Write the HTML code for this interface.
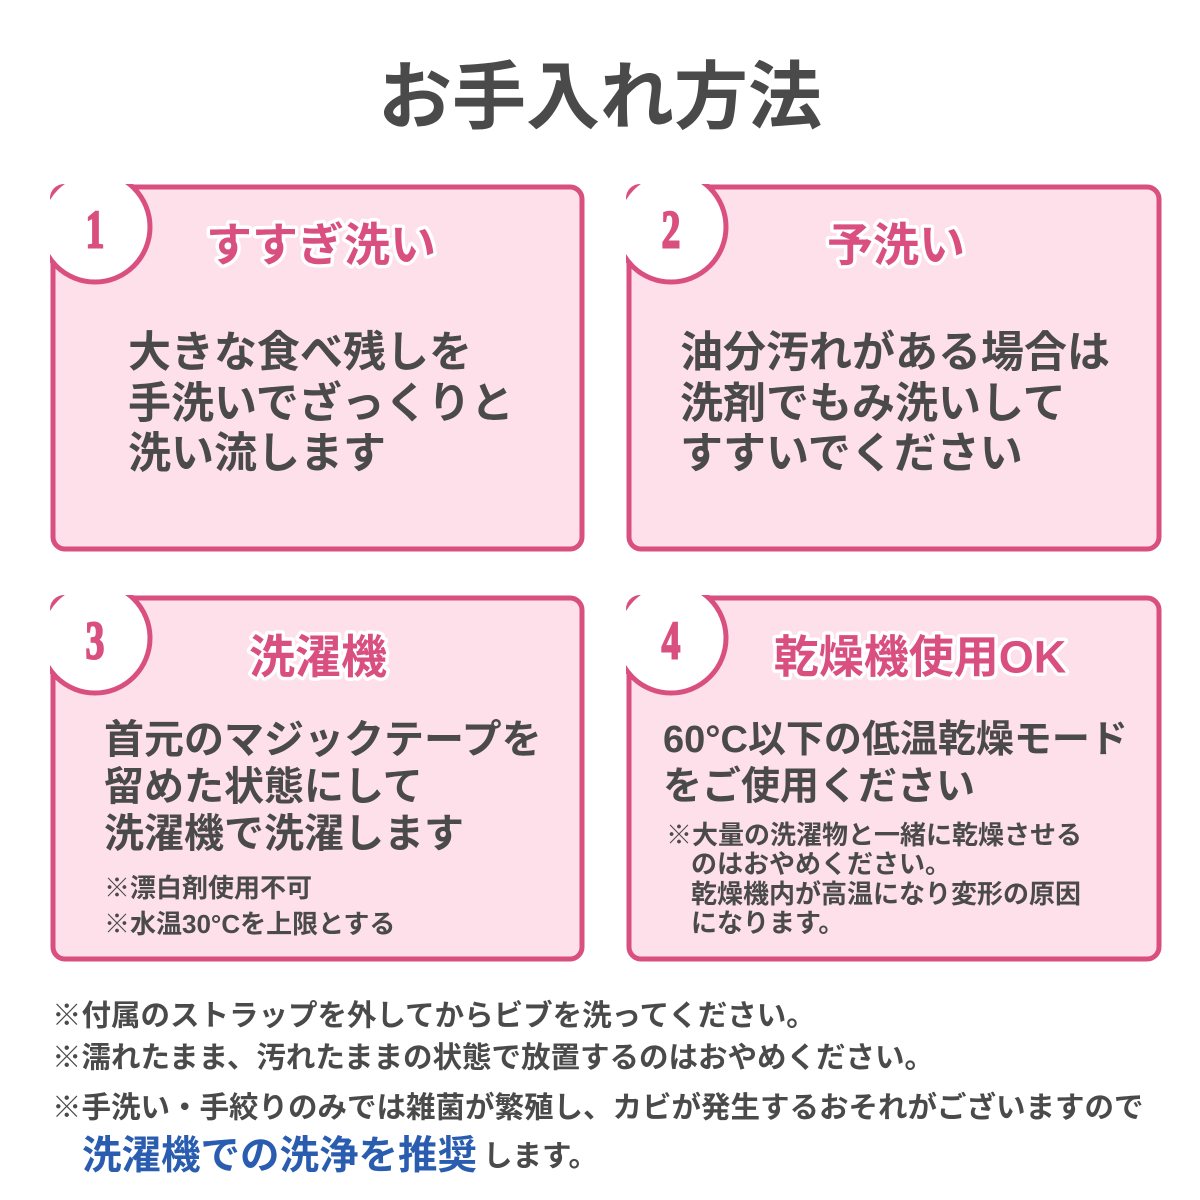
<!DOCTYPE html>
<html><head><meta charset="utf-8"><style>
html,body{margin:0;padding:0;background:#fff}
svg{display:block}
text{font-family:"Liberation Sans","Noto Sans CJK JP",sans-serif;font-weight:bold}
.t{fill:#4a4a4a}
.h{fill:#d94f7f;stroke:#fff;stroke-width:7;paint-order:stroke;stroke-linejoin:round}
.n{font-family:"Liberation Serif",serif;font-weight:bold;fill:#d94f7f;font-size:54px;stroke:#d94f7f;stroke-width:2}
</style></head><body>
<svg width="1200" height="1200" viewBox="0 0 1200 1200" xmlns="http://www.w3.org/2000/svg">
<defs>
<clipPath id="c1"><rect x="50" y="184" width="535" height="368" rx="14"/></clipPath>
<clipPath id="c2"><rect x="626" y="184" width="536" height="368" rx="14"/></clipPath>
<clipPath id="c3"><rect x="50" y="595" width="535" height="367" rx="14"/></clipPath>
<clipPath id="c4"><rect x="626" y="595" width="536" height="367" rx="14"/></clipPath>
</defs>
<text x="600" y="97" text-anchor="middle" dominant-baseline="central" class="t" font-size="74">お手入れ方法</text>

<g>
<rect x="53" y="187" width="529" height="362" rx="12" fill="#fde0ea" stroke="#d94f7f" stroke-width="5"/>
<circle cx="95" cy="227" r="55" fill="#fff" stroke="#d94f7f" stroke-width="5" clip-path="url(#c1)"/>
<text x="95" y="230" text-anchor="middle" dominant-baseline="central" class="n" transform="translate(95 230) scale(0.7 1) translate(-95 -230)">1</text>
<text x="321" y="245" text-anchor="middle" dominant-baseline="central" class="h" font-size="46">すすぎ洗い</text>
<text x="128" y="353" dominant-baseline="central" class="t" font-size="43">大きな食べ残しを</text>
<text x="128" y="404" dominant-baseline="central" class="t" font-size="43">手洗いでざっくりと</text>
<text x="128" y="454" dominant-baseline="central" class="t" font-size="43">洗い流します</text>
</g>

<g>
<rect x="629" y="187" width="530" height="362" rx="12" fill="#fde0ea" stroke="#d94f7f" stroke-width="5"/>
<circle cx="671" cy="227" r="55" fill="#fff" stroke="#d94f7f" stroke-width="5" clip-path="url(#c2)"/>
<text x="671" y="230" text-anchor="middle" dominant-baseline="central" class="n" transform="translate(671 230) scale(0.7 1) translate(-671 -230)">2</text>
<text x="896" y="245" text-anchor="middle" dominant-baseline="central" class="h" font-size="46">予洗い</text>
<text x="680" y="353" dominant-baseline="central" class="t" font-size="43">油分汚れがある場合は</text>
<text x="680" y="404" dominant-baseline="central" class="t" font-size="43">洗剤でもみ洗いして</text>
<text x="680" y="454" dominant-baseline="central" class="t" font-size="43">すすいでください</text>
</g>

<g>
<rect x="53" y="598" width="529" height="361" rx="12" fill="#fde0ea" stroke="#d94f7f" stroke-width="5"/>
<circle cx="95" cy="638" r="55" fill="#fff" stroke="#d94f7f" stroke-width="5" clip-path="url(#c3)"/>
<text x="95" y="641" text-anchor="middle" dominant-baseline="central" class="n" transform="translate(95 641) scale(0.7 1) translate(-95 -641)">3</text>
<text x="318" y="657" text-anchor="middle" dominant-baseline="central" class="h" font-size="46">洗濯機</text>
<text x="104" y="740" dominant-baseline="central" class="t" font-size="40">首元のマジックテープを</text>
<text x="104" y="787" dominant-baseline="central" class="t" font-size="40">留めた状態にして</text>
<text x="104" y="834" dominant-baseline="central" class="t" font-size="40">洗濯機で洗濯します</text>
<text x="104" y="888" dominant-baseline="central" class="t" font-size="26">※漂白剤使用不可</text>
<text x="104" y="924" dominant-baseline="central" class="t" font-size="26">※水温30°Cを上限とする</text>
</g>

<g>
<rect x="629" y="598" width="530" height="361" rx="12" fill="#fde0ea" stroke="#d94f7f" stroke-width="5"/>
<circle cx="671" cy="638" r="55" fill="#fff" stroke="#d94f7f" stroke-width="5" clip-path="url(#c4)"/>
<text x="671" y="641" text-anchor="middle" dominant-baseline="central" class="n" transform="translate(671 641) scale(0.7 1) translate(-671 -641)">4</text>
<text x="920" y="657" text-anchor="middle" dominant-baseline="central" class="h" font-size="45">乾燥機使用OK</text>
<text x="663" y="740" dominant-baseline="central" class="t" font-size="38">60°C以下の低温乾燥モード</text>
<text x="663" y="787" dominant-baseline="central" class="t" font-size="39">をご使用ください</text>
<text x="666" y="835" dominant-baseline="central" class="t" font-size="26">※大量の洗濯物と一緒に乾燥させる</text>
<text x="691" y="864" dominant-baseline="central" class="t" font-size="26">のはおやめください。</text>
<text x="691" y="894" dominant-baseline="central" class="t" font-size="26">乾燥機内が高温になり変形の原因</text>
<text x="691" y="923" dominant-baseline="central" class="t" font-size="26">になります。</text>
</g>

<text x="52" y="1016" dominant-baseline="central" class="t" font-size="29.5">※付属のストラップを外してからビブを洗ってください。</text>
<text x="52" y="1058" dominant-baseline="central" class="t" font-size="29.5">※濡れたまま、汚れたままの状態で放置するのはおやめください。</text>
<text x="52" y="1108" dominant-baseline="central" class="t" font-size="29.5">※手洗い・手絞りのみでは雑菌が繁殖し、カビが発生するおそれがございますので</text>
<text x="82" y="1156" dominant-baseline="central" font-size="29.5"><tspan fill="#2a5db0" font-size="39.5">洗濯機での洗浄を推奨</tspan><tspan class="t" fill="#4a4a4a" dx="6">します。</tspan></text>
</svg>
</body></html>
